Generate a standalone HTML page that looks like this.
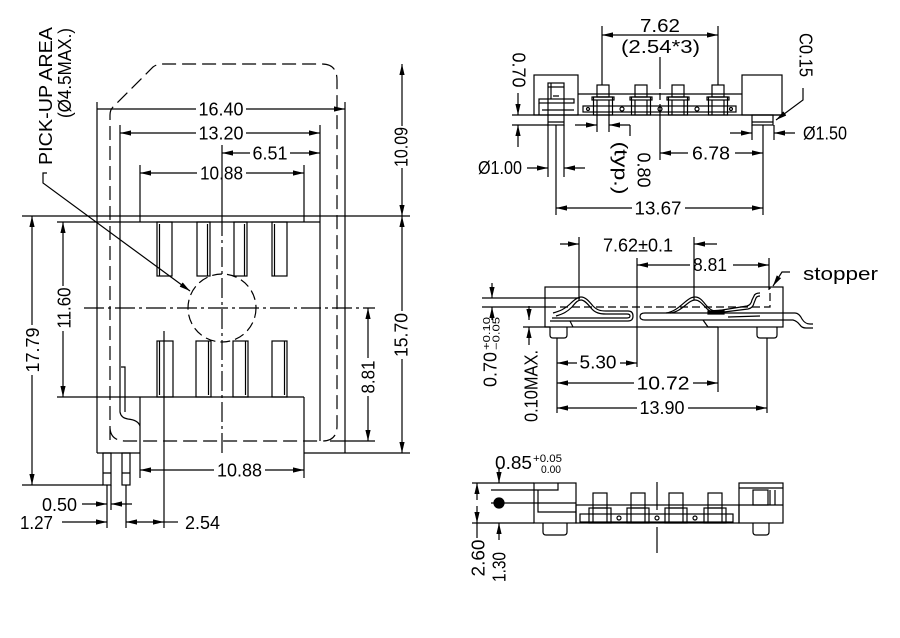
<!DOCTYPE html>
<html><head><meta charset="utf-8"><style>
html,body{margin:0;padding:0;background:#fff;}
svg{display:block;}
text{font-family:"Liberation Sans",sans-serif;font-size:18px;fill:#000;stroke:none;}
</style></head><body>
<svg width="900" height="638" viewBox="0 0 900 638" xmlns="http://www.w3.org/2000/svg">
<defs>
<marker id="a" viewBox="0 0 11 6" refX="11" refY="3" markerWidth="11" markerHeight="6" markerUnits="userSpaceOnUse" orient="auto"><path d="M0,0.4L11,3L0,5.6z" fill="#000" stroke="none"/></marker>
</defs>
<rect width="900" height="638" fill="#fff"/>
<g fill="none" stroke="#000" stroke-width="1.2">
<!-- ================= LEFT VIEW ================= -->
<path d="M110,440 V115 Q110,110 113,107 L153,67 Q157,64 162,64 H322 Q337,64 337,80 V426 Q337,441 322,441 H126 Q110,441 110,427" stroke-dasharray="14 6"/>
<path d="M97,102V453 M345,102V453"/>
<path d="M120,125V412 Q121,418 128,419 Q138,420 140,426"/>
<path d="M121,367H125V412"/>
<path d="M320,125V441"/>
<path d="M22,216H410"/>
<path d="M57,222H320"/>
<path d="M140,165V222 M304,165V222"/>
<path d="M57,397H304 M140,397V478 M304,397V478"/>
<path d="M97,453H140 M304,453H410"/>
<path d="M330,441H375"/>
<!-- top contacts -->
<rect x="157" y="222" width="15" height="54"/><path d="M159.5,224V276"/>
<rect x="197" y="222" width="13" height="54"/><path d="M207.5,224V276"/>
<rect x="234" y="222" width="13" height="54"/><path d="M244.5,224V276"/>
<rect x="272" y="222" width="15" height="54"/><path d="M274.5,224V276"/>
<!-- bottom contacts -->
<rect x="157" y="341" width="16" height="56"/><path d="M159.5,341V395"/>
<rect x="196" y="341" width="15" height="56"/><path d="M208.5,341V395"/>
<rect x="233" y="341" width="15" height="56"/><path d="M245.5,341V395"/>
<rect x="272" y="341" width="15" height="56"/><path d="M284.5,341V395"/>
<!-- pins -->
<rect x="103" y="453" width="8" height="32"/><rect x="122" y="453" width="8" height="32"/>
<path d="M103,473H111 M122,473H130"/>
<!-- extension lines -->
<path d="M22,485H103 M107,485V528 M111,485V510 M126,485V528 M164,331V528"/>
<!-- center lines -->
<path d="M222,145V216"/>
<path d="M222,216V455" stroke-dasharray="20 4 3 4"/>
<path d="M84,308H375" stroke-dasharray="20 4 3 4"/>
<circle cx="222" cy="308" r="34" stroke-dasharray="10 5"/>
<!-- dims -->
<path d="M196,109H97 M246,109H345" marker-end="url(#a)"/>
<path d="M196,133H120" marker-end="url(#a)"/><path d="M246,133H320" marker-end="url(#a)"/>
<path d="M250,153H222" marker-end="url(#a)"/><path d="M290,153H320" marker-end="url(#a)"/>
<path d="M197,173H140" marker-end="url(#a)"/><path d="M246,173H304" marker-end="url(#a)"/>
<path d="M214,470H140" marker-end="url(#a)"/><path d="M265,470H304" marker-end="url(#a)"/>
<path d="M32,325V216" marker-end="url(#a)"/><path d="M32,375V485" marker-end="url(#a)"/>
<path d="M63,286V222" marker-end="url(#a)"/><path d="M63,331V397" marker-end="url(#a)"/>
<path d="M402,126V64" marker-end="url(#a)"/><path d="M402,168V216" marker-end="url(#a)"/>
<path d="M402,311V216" marker-end="url(#a)"/><path d="M402,359V453" marker-end="url(#a)"/>
<path d="M368,358V308" marker-end="url(#a)"/><path d="M368,396V441" marker-end="url(#a)"/>
<path d="M82,504H107" marker-end="url(#a)"/><path d="M132,504H111" marker-end="url(#a)"/>
<path d="M62,522H107" marker-end="url(#a)"/>
<path d="M145,522H126" marker-end="url(#a)"/><path d="M145,522H164" marker-end="url(#a)"/>
<path d="M164,522H178"/>
<path d="M2,522H2"/>
<!-- leader -->
<path d="M47,173H43V183L190,291" marker-end="url(#a)"/>

<!-- ================= TOP RIGHT VIEW ================= -->
<rect x="534" y="75" width="44" height="40"/>
<rect x="742" y="75" width="40" height="40"/>
<path d="M578,94H742"/>
<path d="M512,115H782"/>
<path d="M512,125H548"/>
<rect x="548" y="83" width="16" height="42"/>
<path d="M548,87H564 M551,83V99 M548,122H564 M553,96H559"/>
<rect x="539" y="99" width="35" height="4"/>
<path d="M539,103V115 M542,110H574"/>
<rect x="752" y="115" width="21" height="10"/><path d="M752,122H773"/>
<path d="M548,125V177 M564,125V177 M556,125V215 M763,125V215 M752,125V140 M774,125V140"/>
<rect x="583" y="106" width="153" height="6"/>
<circle cx="622" cy="109" r="2"/><circle cx="660" cy="109" r="2"/><circle cx="697" cy="109" r="2"/>
<circle cx="588" cy="109" r="1.5"/><circle cx="731" cy="109" r="1.5"/>
<g>
<rect x="597" y="85" width="12" height="12"/><rect x="593.5" y="97" width="19" height="18"/><rect x="592" y="97" width="22" height="3"/><path d="M597,100V115 M609,100V115"/>
<rect x="635" y="85" width="12" height="12"/><rect x="631.5" y="97" width="19" height="18"/><rect x="630" y="97" width="22" height="3"/><path d="M635,100V115 M647,100V115"/>
<rect x="672" y="85" width="12" height="12"/><rect x="668.5" y="97" width="19" height="18"/><rect x="667" y="97" width="22" height="3"/><path d="M672,100V115 M684,100V115"/>
<rect x="712" y="85" width="12" height="12"/><rect x="708.5" y="97" width="19" height="18"/><rect x="707" y="97" width="22" height="3"/><path d="M712,100V115 M724,100V115"/>
</g>
<path d="M602,26V85 M718,26V85"/>
<path d="M660,35H602" marker-end="url(#a)"/><path d="M660,35H718" marker-end="url(#a)"/>
<path d="M660,57V89 M660,93V100 M660,104V160"/>
<path d="M518,93V115" marker-end="url(#a)"/><path d="M518,147V125" marker-end="url(#a)"/>
<path d="M597,115V132 M609,115V132"/>
<path d="M575,125H597" marker-end="url(#a)"/><path d="M630,125H609" marker-end="url(#a)"/><path d="M630,125V136"/>
<path d="M688,153H660" marker-end="url(#a)"/><path d="M735,153H763" marker-end="url(#a)"/>
<path d="M632,208H556" marker-end="url(#a)"/><path d="M685,208H763" marker-end="url(#a)"/>
<path d="M527,168H548" marker-end="url(#a)"/><path d="M585,168H564" marker-end="url(#a)"/>
<path d="M730,133H752" marker-end="url(#a)"/><path d="M795,133H774" marker-end="url(#a)"/>
<path d="M803,88V100L776,120" marker-end="url(#a)"/>

<!-- ================= MIDDLE RIGHT VIEW ================= -->
<rect x="545" y="287" width="238" height="40"/>
<path d="M548,307H770V287" stroke-dasharray="8 4"/>
<path d="M550,327V335Q550,338 553,338H564Q567,338 567,335V327"/>
<path d="M757,327V335Q757,338 760,338H774Q777,338 777,335V327"/>
<!-- left spring -->
<path d="M553,313C560,311 565,309 570,304C575,299 578,297 581,297C585,297 588,300 593,306C597,310 600,311 606,311H628Q633,311 633,316Q633,321 628,321H550"/>
<path d="M556,316C563,314 567,312 572,307C576,302 578,300 581,300C584,300 587,303 591,308C595,313 600,314 606,314H627Q630,314 630,316Q630,318 627,318H552"/>
<path d="M570,321L573,327"/>
<!-- right spring -->
<path d="M645,313Q640,313 640,316.5Q640,320 645,320"/>
<path d="M645,313H795Q799,313 802,319Q805,324 810,324H813"/>
<path d="M645,320H793Q797,321 800,325Q802,328 806,328H813"/>
<path d="M666,313C680,311 686,297 695,297C704,297 706,311 716,311L747,306Q751,305 752,300L754,296Q755,293 760,293"/>
<path d="M670,313C682,312 688,300 695,300C703,300 706,313 716,313L748,309Q753,308 754,303L756,298Q757,296 760,296"/>
<path d="M708,311L724,310L724,314L708,314Z" fill="#000"/>
<path d="M703,320L708,327H718"/>
<path d="M728,317L760,316" />
<!-- dims -->
<path d="M579,237V300 M694,237V300"/>
<path d="M560,244H579" marker-end="url(#a)"/><path d="M717,244H694" marker-end="url(#a)"/>
<path d="M637,258V367 M769,258V290"/>
<path d="M690,265H637" marker-end="url(#a)"/><path d="M733,265H769" marker-end="url(#a)"/>
<path d="M790,272H782L773,286" marker-end="url(#a)"/>
<path d="M482,298H580 M482,307H548"/>
<path d="M492,283V298" marker-end="url(#a)"/><path d="M492,320V307" marker-end="url(#a)"/>
<path d="M523,327H550"/>
<path d="M529,306V320" marker-end="url(#a)"/><path d="M529,345V327" marker-end="url(#a)"/>
<path d="M557,338V413 M718,327V392 M767,338V413"/>
<path d="M577,363H557" marker-end="url(#a)"/><path d="M620,363H637" marker-end="url(#a)"/>
<path d="M634,383H557" marker-end="url(#a)"/><path d="M693,383H718" marker-end="url(#a)"/>
<path d="M637,408H557" marker-end="url(#a)"/><path d="M688,408H767" marker-end="url(#a)"/>

<!-- ================= BOTTOM RIGHT VIEW ================= -->
<rect x="534" y="483" width="42" height="40"/>
<path d="M472,483H534 M472,523H534 M491,490H558V483 M491,503H576 M538,490V512H576"/>
<circle cx="499" cy="503" r="5" fill="#000"/>
<path d="M477,500V483" marker-end="url(#a)"/><path d="M477,506V523" marker-end="url(#a)"/><path d="M477,523V538"/>
<path d="M499,468V483" marker-end="url(#a)"/><path d="M499,540V523" marker-end="url(#a)"/>
<rect x="576" y="505" width="163" height="18"/>
<rect x="739" y="483" width="44" height="40"/>
<path d="M739,488H783 M739,505H783 M770,490V505 M775,490V505"/>
<rect x="753" y="490" width="15" height="15"/>
<path d="M543,523V532Q543,535 546,535H564Q567,535 567,532V523"/>
<path d="M753,523V532Q753,535 756,535H766Q769,535 769,532V523"/>
<rect x="580" y="514" width="153" height="8"/>
<circle cx="619" cy="518" r="2"/><circle cx="657" cy="518" r="2"/><circle cx="695" cy="518" r="2"/>
<g>
<rect x="593" y="493" width="14" height="15"/><rect x="589" y="508" width="22" height="15"/><path d="M593,508V523 M607,508V523"/>
<rect x="631" y="493" width="14" height="15"/><rect x="627" y="508" width="22" height="15"/><path d="M631,508V523 M645,508V523"/>
<rect x="669" y="493" width="14" height="15"/><rect x="665" y="508" width="22" height="15"/><path d="M669,508V523 M683,508V523"/>
<rect x="708" y="493" width="14" height="15"/><rect x="704" y="508" width="22" height="15"/><path d="M708,508V523 M722,508V523"/>
</g>
<path d="M657,482V510 M657,527V553"/>
</g>

<!-- ================= TEXT ================= -->
<g lengthAdjust="spacingAndGlyphs">
<text x="221" y="115.5" text-anchor="middle" textLength="45" lengthAdjust="spacingAndGlyphs">16.40</text>
<text x="221" y="139.5" text-anchor="middle" textLength="45" lengthAdjust="spacingAndGlyphs">13.20</text>
<text x="270" y="159.5" text-anchor="middle" textLength="35" lengthAdjust="spacingAndGlyphs">6.51</text>
<text x="221.5" y="179.5" text-anchor="middle" textLength="43" lengthAdjust="spacingAndGlyphs">10.88</text>
<text x="239.5" y="476.5" text-anchor="middle" textLength="45" lengthAdjust="spacingAndGlyphs">10.88</text>
<text transform="translate(32.5,350) rotate(-90)" y="6.5" text-anchor="middle" textLength="45" lengthAdjust="spacingAndGlyphs">17.79</text>
<text transform="translate(64,308) rotate(-90)" y="6.5" text-anchor="middle" textLength="41" lengthAdjust="spacingAndGlyphs">11.60</text>
<text transform="translate(401,147) rotate(-90)" y="6.5" text-anchor="middle" textLength="40" lengthAdjust="spacingAndGlyphs">10.09</text>
<text transform="translate(401,335) rotate(-90)" y="6.5" text-anchor="middle" textLength="44" lengthAdjust="spacingAndGlyphs">15.70</text>
<text transform="translate(368,377) rotate(-90)" y="6.5" text-anchor="middle" textLength="33" lengthAdjust="spacingAndGlyphs">8.81</text>
<text x="77" y="511" text-anchor="end" textLength="35" lengthAdjust="spacingAndGlyphs">0.50</text>
<text x="53" y="529" text-anchor="end" textLength="33" lengthAdjust="spacingAndGlyphs">1.27</text>
<text x="185" y="529" textLength="35" lengthAdjust="spacingAndGlyphs">2.54</text>
<text transform="translate(45,96) rotate(-90)" y="7" text-anchor="middle" textLength="138" lengthAdjust="spacingAndGlyphs">PICK-UP AREA</text>
<text transform="translate(64,73) rotate(-90)" y="7" text-anchor="middle" textLength="90" lengthAdjust="spacingAndGlyphs">(Ø4.5MAX.)</text>

<text x="660" y="32" text-anchor="middle" textLength="40" lengthAdjust="spacingAndGlyphs">7.62</text>
<text x="660.5" y="53" text-anchor="middle" textLength="79" lengthAdjust="spacingAndGlyphs">(2.54*3)</text>
<text transform="translate(519,70) rotate(90)" y="6.5" text-anchor="middle" textLength="35" lengthAdjust="spacingAndGlyphs">0.70</text>
<text transform="translate(806,55) rotate(90)" y="6.5" text-anchor="middle" textLength="44" lengthAdjust="spacingAndGlyphs">C0.15</text>
<text transform="translate(644,170) rotate(90)" y="6.5" text-anchor="middle" textLength="35" lengthAdjust="spacingAndGlyphs">0.80</text>
<text transform="translate(621,168) rotate(90)" y="6.5" text-anchor="middle" textLength="53" lengthAdjust="spacingAndGlyphs">(typ.)</text>
<text x="522" y="174" text-anchor="end" textLength="44" lengthAdjust="spacingAndGlyphs">Ø1.00</text>
<text x="803" y="139.5" textLength="44" lengthAdjust="spacingAndGlyphs">Ø1.50</text>
<text x="711" y="159.5" text-anchor="middle" textLength="38" lengthAdjust="spacingAndGlyphs">6.78</text>
<text x="658" y="214.5" text-anchor="middle" textLength="47" lengthAdjust="spacingAndGlyphs">13.67</text>

<text x="638" y="251.5" text-anchor="middle" textLength="70" lengthAdjust="spacingAndGlyphs">7.62±0.1</text>
<text x="710" y="271" text-anchor="middle" textLength="34" lengthAdjust="spacingAndGlyphs">8.81</text>
<text x="803" y="280" textLength="75" lengthAdjust="spacingAndGlyphs">stopper</text>
<text x="598" y="368.5" text-anchor="middle" textLength="37" lengthAdjust="spacingAndGlyphs">5.30</text>
<text x="663" y="389.5" text-anchor="middle" textLength="53" lengthAdjust="spacingAndGlyphs">10.72</text>
<text x="662" y="414" text-anchor="middle" textLength="45" lengthAdjust="spacingAndGlyphs">13.90</text>
<g transform="translate(490,387) rotate(-90)">
<text x="0" y="6.5" textLength="35" lengthAdjust="spacingAndGlyphs">0.70</text>
<text x="37" y="0" font-size="10" style="font-size:10px" textLength="33" lengthAdjust="spacingAndGlyphs">+0.10</text>
<text x="37" y="9.5" font-size="10" style="font-size:10px" textLength="33" lengthAdjust="spacingAndGlyphs">−0.05</text>
</g>
<text transform="translate(531,386) rotate(-90)" y="6.5" text-anchor="middle" textLength="72" lengthAdjust="spacingAndGlyphs">0.10MAX.</text>

<text x="495" y="469" textLength="37" lengthAdjust="spacingAndGlyphs">0.85</text>
<text x="533" y="462" style="font-size:11px" textLength="29" lengthAdjust="spacingAndGlyphs">+0.05</text>
<text x="541" y="473" style="font-size:11px" textLength="20" lengthAdjust="spacingAndGlyphs">0.00</text>
<text transform="translate(478,558) rotate(-90)" y="6.5" text-anchor="middle" textLength="37" lengthAdjust="spacingAndGlyphs">2.60</text>
<text transform="translate(499,567) rotate(-90)" y="6.5" text-anchor="middle" textLength="30" lengthAdjust="spacingAndGlyphs">1.30</text>
</g>
</svg>
</body></html>
